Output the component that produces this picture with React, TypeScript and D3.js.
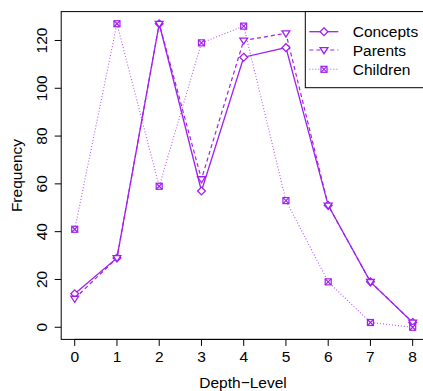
import React from "react";
import * as d3 from "d3";

const depthLevels = [0, 1, 2, 3, 4, 5, 6, 7, 8];
const concepts = [14, 29, 127, 57, 113, 117, 51, 19, 2];
const parents = [12, 29, 127, 62, 120, 123, 51, 19, 2];
const children = [41, 127, 59, 119, 126, 53, 19, 2, 0];
const yTicks = [0, 20, 40, 60, 80, 100, 120];
const seriesNames = ["Concepts", "Parents", "Children"];

const W = 423;
const H = 391;
const COLOR = "#A020F0";
const FONT = "'Liberation Sans', Arial, Helvetica, sans-serif";
const FS = 15.5;

function marker(kind: string, cx: number, cy: number, key: string, s = 1) {
  if (kind === "diamond") {
    const r = 3.9 * s;
    return (
      <path key={key} d={`M${cx},${cy - r}L${cx + r},${cy}L${cx},${cy + r}L${cx - r},${cy}Z`}
        fill="white" stroke={COLOR} strokeWidth={1.3} />
    );
  }
  if (kind === "tri") {
    const r = 3.9 * s;
    return (
      <path key={key} d={`M${cx - r},${cy - r * 0.6}L${cx + r},${cy - r * 0.6}L${cx},${cy + r * 0.95}Z`}
        fill="white" stroke={COLOR} strokeWidth={1.3} />
    );
  }
  const h = 3 * s;
  return (
    <g key={key} stroke={COLOR} strokeWidth={1.2} fill="white">
      <rect x={cx - h} y={cy - h} width={2 * h} height={2 * h} />
      <path d={`M${cx - h},${cy - h}L${cx + h},${cy + h}M${cx - h},${cy + h}L${cx + h},${cy - h}`} />
    </g>
  );
}

export default function App() {
  const left = 61.2, right = 426.2, top = 11.6, bottom = 339.4;
  const x = d3.scaleLinear().domain([-0.32, 8.32]).range([left, right]);
  const y = d3.scaleLinear().domain([-5.08, 132.08]).range([bottom, top]);

  const series = [
    { name: seriesNames[0], values: concepts, kind: "diamond", dash: undefined as string | undefined, width: 1.3, opacity: 1 },
    { name: seriesNames[1], values: parents, kind: "tri", dash: "4,3", width: 1.2, opacity: 1 },
    { name: seriesNames[2], values: children, kind: "sq", dash: "1,2", width: 1.1, opacity: 0.75 },
  ];

  const line = d3.line<number>().x((_, i) => x(depthLevels[i])).y((d) => y(d));

  const legX1 = 309.3, legX2 = 338.3, legMx = 324, legTx = 352.7;
  const legYs = [31.7, 50, 69.3];

  return (
    <svg width={W} height={H} style={{ position: "absolute", left: 0, top: 0, background: "white" }}
      fontFamily={FONT}>
      <rect x={0} y={0} width={W} height={H} fill="white" />
      {series.map((s) => (
        <path key={s.name + "l"} d={line(s.values) || ""} fill="none" stroke={COLOR}
          strokeWidth={s.width} strokeDasharray={s.dash} opacity={s.opacity} />
      ))}
      {series.map((s) =>
        s.values.map((v, i) => marker(s.kind, x(depthLevels[i]), y(v), s.name + i))
      )}
      {/* box */}
      <rect x={left} y={top} width={right - left} height={bottom - top} fill="none" stroke="black" strokeWidth={1} />
      {/* x axis */}
      <line x1={x(0)} x2={x(8)} y1={bottom} y2={bottom} stroke="black" />
      {depthLevels.map((d) => (
        <g key={"xt" + d}>
          <line x1={x(d)} x2={x(d)} y1={bottom} y2={bottom + 6.5} stroke="black" />
          <text x={x(d)} y={bottom + 23} textAnchor="middle" fontSize={FS}>{d}</text>
        </g>
      ))}
      {/* y axis */}
      {yTicks.map((t) => (
        <g key={"yt" + t}>
          <line x1={left - 6.5} x2={left} y1={y(t)} y2={y(t)} stroke="black" />
          <text transform={`translate(${left - 14},${y(t)}) rotate(-90)`} textAnchor="middle" fontSize={FS}>{t}</text>
        </g>
      ))}
      <text x={(left + right) / 2 - 0.7} y={387.5} textAnchor="middle" fontSize={FS}>Depth−Level</text>
      <text transform={`translate(21.5,${(top + bottom) / 2}) rotate(-90)`} textAnchor="middle" fontSize={FS}>Frequency</text>
      {/* legend */}
      <rect x={305.3} y={top} width={right - 305.3} height={87.7 - top} fill="white" stroke="black" strokeWidth={1} />
      {series.map((s, i) => (
        <g key={"lg" + i}>
          <line x1={legX1} x2={legX2} y1={legYs[i]} y2={legYs[i]} stroke={COLOR} strokeWidth={s.width}
            strokeDasharray={s.dash} opacity={s.opacity} />
          {marker(s.kind, legMx, legYs[i], "lm" + i)}
          <text x={legTx} y={legYs[i] + 5.5} fontSize={FS}>{s.name}</text>
        </g>
      ))}
    </svg>
  );
}
